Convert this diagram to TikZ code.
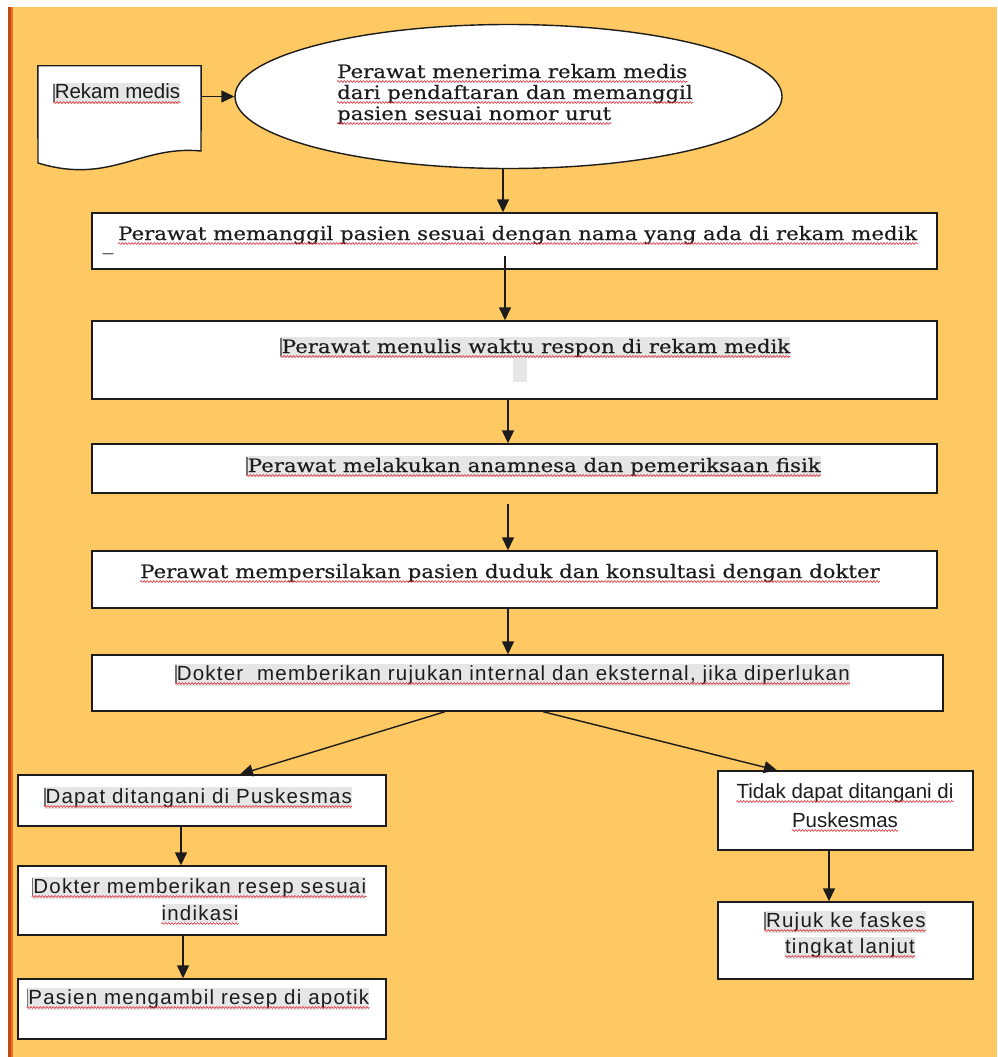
\documentclass[tikz,border=0pt]{standalone}
\usepackage{fontspec}
\usetikzlibrary{arrows.meta,shapes.geometric,decorations.pathmorphing}
\newfontfamily\serf[FakeStretch=1.15,FakeBold=0.4]{DejaVu Serif}
\newfontfamily\sanf{Liberation Sans}
\newfontfamily\sanls[LetterSpace=6]{Liberation Sans}
\definecolor{bgor}{HTML}{FEC862}
\definecolor{edge}{HTML}{C24A18}
\definecolor{edgelight}{HTML}{E8701E}
\definecolor{ink}{HTML}{1C1C1C}
\definecolor{hl}{HTML}{E6E6E6}
\definecolor{curgray}{HTML}{707070}
\definecolor{squigred}{HTML}{E0303A}
\newcommand{\cur}{{\color{curgray}\rule[-3pt]{1.6pt}{18pt}}}
\tikzset{
  boxline/.style={draw=ink, line width=1.4pt, fill=white},
  stepbox/.style={boxline, rectangle, inner sep=0pt},
  arr/.style={draw=ink, line width=1.4pt, -{Triangle[length=13pt,width=12pt]}},
  ser/.style={inner sep=0pt, anchor=base west, text=ink, font=\serf\fontsize{18.5}{21}\selectfont},
  sans/.style={inner sep=0pt, anchor=base west, text=ink, font=\sanf\fontsize{20.5}{27}\selectfont},
  sansw/.style={sans, font=\sanls\fontsize{20.5}{27}\selectfont},
  hlt/.style={fill=hl, inner ysep=1.5pt},
  squig/.style={draw=squigred, line width=0.6pt, decorate, decoration={snake, amplitude=0.9pt, segment length=3.2pt}}
}
\begin{document}
\begin{tikzpicture}[x=1pt,y=-1pt]
\useasboundingbox (0,0) rectangle (997,1057);
% background
\fill[white] (0,0) rectangle (997,1057);
\fill[bgor] (8,7.5) rectangle (997,1057);
\fill[edge] (8,7.5) rectangle (11,1057);
\fill[edgelight] (11,7.5) rectangle (12.5,1057);

% document shape
\node[minimum width=163pt, minimum height=85pt, inner sep=0pt] (doc) at (119.5,108.5) {};
\draw[boxline] (doc.north west) -- (doc.north east) -- (201,151)
  .. controls (140,145) and (110,185) .. (38,163) -- cycle;

% ellipse
\node[ellipse, boxline, minimum width=547pt, minimum height=144pt, inner sep=0pt] (e) at (508.5,96.5) {};

% boxes
\node[stepbox, minimum width=845pt, minimum height=56pt] (b1) at (514.5,241) {};
\node[stepbox, minimum width=845pt, minimum height=78pt] (b2) at (514.5,360) {};
\node[stepbox, minimum width=845pt, minimum height=49pt] (b3) at (514.5,468.5) {};
\node[stepbox, minimum width=845pt, minimum height=57pt] (b4) at (514.5,579.5) {};
\node[stepbox, minimum width=851pt, minimum height=56pt] (b5) at (517.5,683) {};
\node[stepbox, minimum width=368pt, minimum height=51pt] (l1) at (202,800.5) {};
\node[stepbox, minimum width=368pt, minimum height=69pt] (l2) at (202,900.5) {};
\node[stepbox, minimum width=368pt, minimum height=60pt] (l3) at (202,1009) {};
\node[stepbox, minimum width=255pt, minimum height=79pt] (r1) at (845.5,810.5) {};
\node[stepbox, minimum width=255pt, minimum height=77pt] (r2) at (845.5,940.5) {};

% texts
\node[sans, hlt] (t0) at (53,99) {\cur Rekam medis};
\node[ser] (te1) at (337,78) {Perawat menerima rekam medis};
\node[ser] (te2) at (337,99) {dari pendaftaran dan memanggil};
\node[ser] (te3) at (337,120) {pasien sesuai nomor urut};
\node[ser] (t1) at (118,240) {Perawat memanggil pasien sesuai dengan nama yang ada di rekam medik};
\node[ser, anchor=center] (us) at (108,252) {\_};
\node[ser, hlt] (t2) at (280,353) {\cur Perawat menulis waktu respon di rekam medik};
\node[fill=hl, minimum width=14pt, minimum height=25pt, inner sep=0pt] (gap2) at (520,369.5) {};
\node[ser, hlt] (t3) at (246,472) {\cur Perawat melakukan anamnesa dan pemeriksaan fisik};
\node[ser] (t4) at (140,578) {Perawat mempersilakan pasien duduk dan konsultasi dengan dokter};
\node[sansw, hlt] (t5) at (175,680) {\cur Dokter\ \ memberikan rujukan internal dan eksternal, jika diperlukan};
\node[sansw, hlt, anchor=base] (tl1) at (198,803) {\cur Dapat ditangani di Puskesmas};
\node[sansw, hlt, anchor=base] (tl2a) at (199,893) {\cur Dokter memberikan resep sesuai};
\node[sansw, hlt, anchor=base] (tl2b) at (200,920) {indikasi};
\node[sansw, hlt, anchor=base] (tl3) at (198,1004) {\cur Pasien mengambil resep di apotik};
\node[sans, anchor=base] (tr1a) at (845,798) {Tidak dapat ditangani di};
\node[sans, anchor=base] (tr1b) at (845,827) {Puskesmas};
\node[sansw, hlt, anchor=base] (tr2a) at (845,927) {\cur Rujuk ke faskes};
\node[sansw, hlt, anchor=base] (tr2b) at (850,953) {tingkat lanjut};

% spell-check squiggles
\foreach \n in {t0,te1,te2,te3,t1,t2,t3,t4,t5,tl1,tl2a,tl2b,tl3,tr1a,tr1b,tr2a,tr2b}
  \draw[squig] ([yshift=-3.5pt]\n.base west) -- ([yshift=-3.5pt]\n.base east);

% connectors
\draw[arr] (doc.east |- e.west) -- (e.west);
\draw[arr] ([xshift=-5.5pt]e.south) -- ([xshift=-5.5pt]e.south |- b1.north);
\draw[arr] ([xshift=-9.5pt,yshift=14pt]b1.south) -- ([xshift=-9.5pt]b2.north);
\draw[arr] ([xshift=-6.5pt]b2.south) -- ([xshift=-6.5pt]b3.north);
\draw[arr] ([xshift=-6.5pt,yshift=-10pt]b3.south) -- ([xshift=-6.5pt]b4.north);
\draw[arr] ([xshift=-6.5pt]b4.south) -- ([xshift=-9.5pt]b5.north);
\draw[arr] ([xshift=-72.5pt]b5.south) -- ([xshift=38pt]l1.north);
\draw[arr] ([xshift=25.5pt]b5.south) -- ([xshift=-68.5pt]r1.north);
\draw[arr] ([xshift=-21pt]l1.south) -- ([xshift=-21pt]l2.north);
\draw[arr] ([xshift=-19pt]l2.south) -- ([xshift=-19pt]l3.north);
\draw[arr] ([xshift=-16.5pt]r1.south) -- ([xshift=-16.5pt]r2.north);
\end{tikzpicture}
\end{document}
